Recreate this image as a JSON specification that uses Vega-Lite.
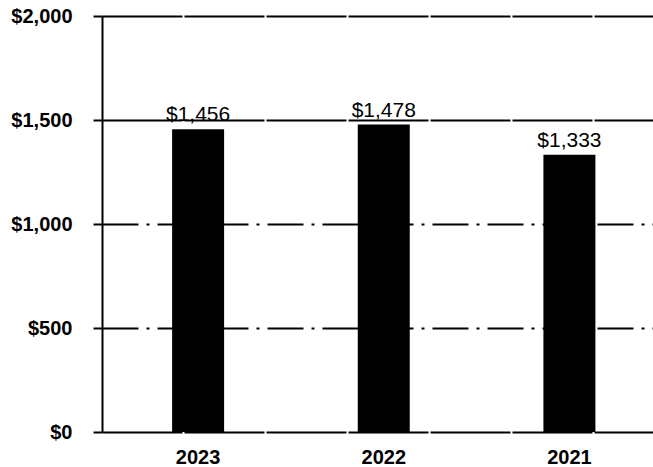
{
  "$schema": "https://vega.github.io/schema/vega-lite/v6.json",
  "autosize": {"type": "none"},
  "padding": {"left": 102, "top": 16, "right": 0, "bottom": 35},
  "width": 551,
  "height": 416,
  "background": "white",
  "config": {"view": {"stroke": null}, "font": "Liberation Sans"},
  "data": {"values": [
    {"year": "2023", "value": 1456},
    {"year": "2022", "value": 1478},
    {"year": "2021", "value": 1333}
  ]},
  "encoding": {
    "x": {"field": "year", "type": "nominal", "sort": null,
      "scale": {"paddingInner": 0.72, "paddingOuter": 0.344, "align": 0.549},
      "axis": {"title": null, "domain": false, "ticks": false, "labelAngle": 0,
        "labelFont": "Liberation Sans", "labelFontSize": 20, "labelFontWeight": "bold",
        "labelColor": "black", "labelPadding": 15, "grid": false}},
    "y": {"field": "value", "type": "quantitative",
      "scale": {"domain": [0, 2000], "nice": false},
      "axis": {"title": null, "values": [0, 500, 1000, 1500, 2000],
        "format": "$,.0f", "labelFont": "Liberation Sans", "labelFontSize": 20,
        "labelFontWeight": "bold", "labelColor": "black", "labelPadding": 21,
        "tickSize": 9, "tickWidth": 2, "tickColor": "black",
        "domain": true, "domainColor": "black", "domainWidth": 2,
        "grid": true, "gridColor": "black", "gridWidth": 2,
        "gridDash": {"condition": {"test": "datum.value >= 1500 || datum.value == 0", "value": [80, 2]}, "value": [36, 8, 3, 8]}}}
  },
  "layer": [
    {"mark": {"type": "bar", "color": "black"}},
    {"mark": {"type": "text", "baseline": "alphabetic", "dy": -8, "font": "Liberation Sans", "fontSize": 21, "color": "black"},
     "encoding": {"text": {"field": "value", "type": "quantitative", "format": "$,.0f"}}}
  ]
}
